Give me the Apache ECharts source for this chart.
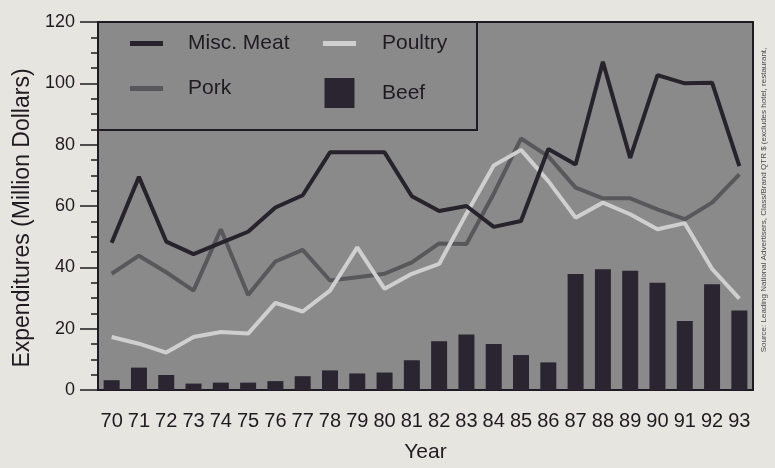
<!DOCTYPE html>
<html>
<head>
<meta charset="utf-8">
<script src="https://cdn.jsdelivr.net/npm/echarts@6/dist/echarts.min.js"></script>
<style>
  html, body { margin: 0; padding: 0; background: #e7e5e0; }
  #chart { width: 775px; height: 468px; }
</style>
</head>
<body>
<div id="chart"></div>
<script>
var years = ['70', '71', '72', '73', '74', '75', '76', '77', '78', '79', '80', '81',
             '82', '83', '84', '85', '86', '87', '88', '89', '90', '91', '92', '93'];
var miscMeat = [48, 69.5, 48.4, 44.3, 48, 51.6, 59.5, 63.5, 77.5, 77.5, 77.5, 63.2,
                58.4, 60, 53.2, 55.1, 78.6, 73.5, 107, 75.7, 102.7, 100, 100.2, 73];
var pork = [37.9, 43.8, 38.4, 32.4, 52.4, 31, 41.9, 45.7, 35.7, 36.8, 37.9, 41.6,
            47.8, 47.6, 64, 82, 76.2, 66, 62.5, 62.5, 58.9, 55.7, 61.1, 70.3];
var poultry = [17.3, 15.1, 12.2, 17.3, 18.9, 18.4, 28.4, 25.6, 32.4, 46.5, 33, 37.9,
               41.1, 57.5, 73.2, 78.3, 68.1, 56.2, 61.1, 57.3, 52.4, 54.4, 39.5, 29.8];
var beef = [3.2, 7.3, 4.9, 2.1, 2.4, 2.4, 2.9, 4.5, 6.4, 5.4, 5.7, 9.7,
            15.9, 18.1, 15, 11.4, 9, 37.8, 39.4, 38.9, 35, 22.5, 34.5, 25.9];
var sourceNote = 'Source: Leading National Advertisers, Class/Brand QTR $ (excludes hotel, restaurant,';

var font = 'Liberation Sans, Arial, sans-serif';
var ink = '#1f1b22';
var lineIcon = 'path://M0,0H33V5H0Z';
var boxIcon = 'path://M0,0H30V30H0Z';

var myChart = echarts.init(document.getElementById('chart'));

option = {
    backgroundColor: '#e7e5e0',
    textStyle: { fontFamily: font },
    grid: {
        left: 98, right: 22, top: 22, bottom: 76,
        show: true,
        backgroundColor: '#8b8a8b',
        borderColor: ink,
        borderWidth: 2
    },
    graphic: [
        {
            type: 'rect', z: 1,
            shape: { x: 98, y: 22, width: 379, height: 108 },
            style: { fill: '#8b8a8b', stroke: ink, lineWidth: 2 }
        },
        {
            type: 'text', z: 1,
            x: 764, y: 200, rotation: Math.PI / 2,
            style: {
                text: sourceNote, fill: '#4a4a4a', font: '8px ' + font,
                align: 'center', verticalAlign: 'middle'
            }
        }
    ],
    legend: [
        {
            orient: 'vertical', left: 130, top: 33, padding: 0, z: 5,
            itemWidth: 33, itemHeight: 30, itemGap: 24,
            textStyle: { fontSize: 21, color: ink, padding: [0, 0, 0, 20] },
            data: [{ name: 'Misc. Meat', icon: lineIcon }, { name: 'Pork', icon: lineIcon }]
        },
        {
            orient: 'vertical', left: 323, top: 33, padding: 0, z: 5,
            itemWidth: 33, itemHeight: 30, itemGap: 24,
            textStyle: { fontSize: 21, color: ink, padding: [0, 0, 0, 21] },
            data: [{ name: 'Poultry', icon: lineIcon }, { name: 'Beef', icon: boxIcon }]
        }
    ],
    xAxis: {
        type: 'category',
        data: years,
        boundaryGap: true,
        name: 'Year',
        nameLocation: 'middle',
        nameGap: 52,
        nameTextStyle: { fontSize: 21, color: ink },
        axisLine: { lineStyle: { color: ink, width: 2 } },
        axisTick: { length: 15, interval: 0, lineStyle: { color: ink, width: 1.5 } },
        axisLabel: { fontSize: 20, color: ink, margin: 21, interval: 0 },
        splitLine: { show: false }
    },
    yAxis: {
        type: 'value',
        min: 0, max: 120, interval: 20,
        name: 'Expenditures (Million Dollars)',
        nameLocation: 'middle',
        nameGap: 62,
        nameTextStyle: { fontSize: 23, color: ink, padding: [0, 24, 0, 0] },
        axisLine: { show: true, lineStyle: { color: ink, width: 2 } },
        axisTick: { show: true, length: 18, lineStyle: { color: ink, width: 1.5 } },
        minorTick: { show: true, splitNumber: 4, length: 7, lineStyle: { color: ink, width: 1.5 } },
        axisLabel: { fontSize: 18, color: ink, margin: 23 },
        splitLine: { show: false }
    },
    series: [
        {
            name: 'Beef', type: 'bar', data: beef, barWidth: 16,
            color: '#2a2530', itemStyle: { color: '#2a2530' }
        },
        {
            name: 'Pork', type: 'line', data: pork, symbol: 'none', z: 3,
            color: '#58575c', lineStyle: { color: '#58575c', width: 4 }
        },
        {
            name: 'Poultry', type: 'line', data: poultry, symbol: 'none', z: 4,
            color: '#cfcfcf', lineStyle: { color: '#cfcfcf', width: 4 }
        },
        {
            name: 'Misc. Meat', type: 'line', data: miscMeat, symbol: 'none', z: 5,
            color: '#27222c', lineStyle: { color: '#27222c', width: 4 }
        }
    ]
};

myChart.setOption(option);
</script>
</body>
</html>
